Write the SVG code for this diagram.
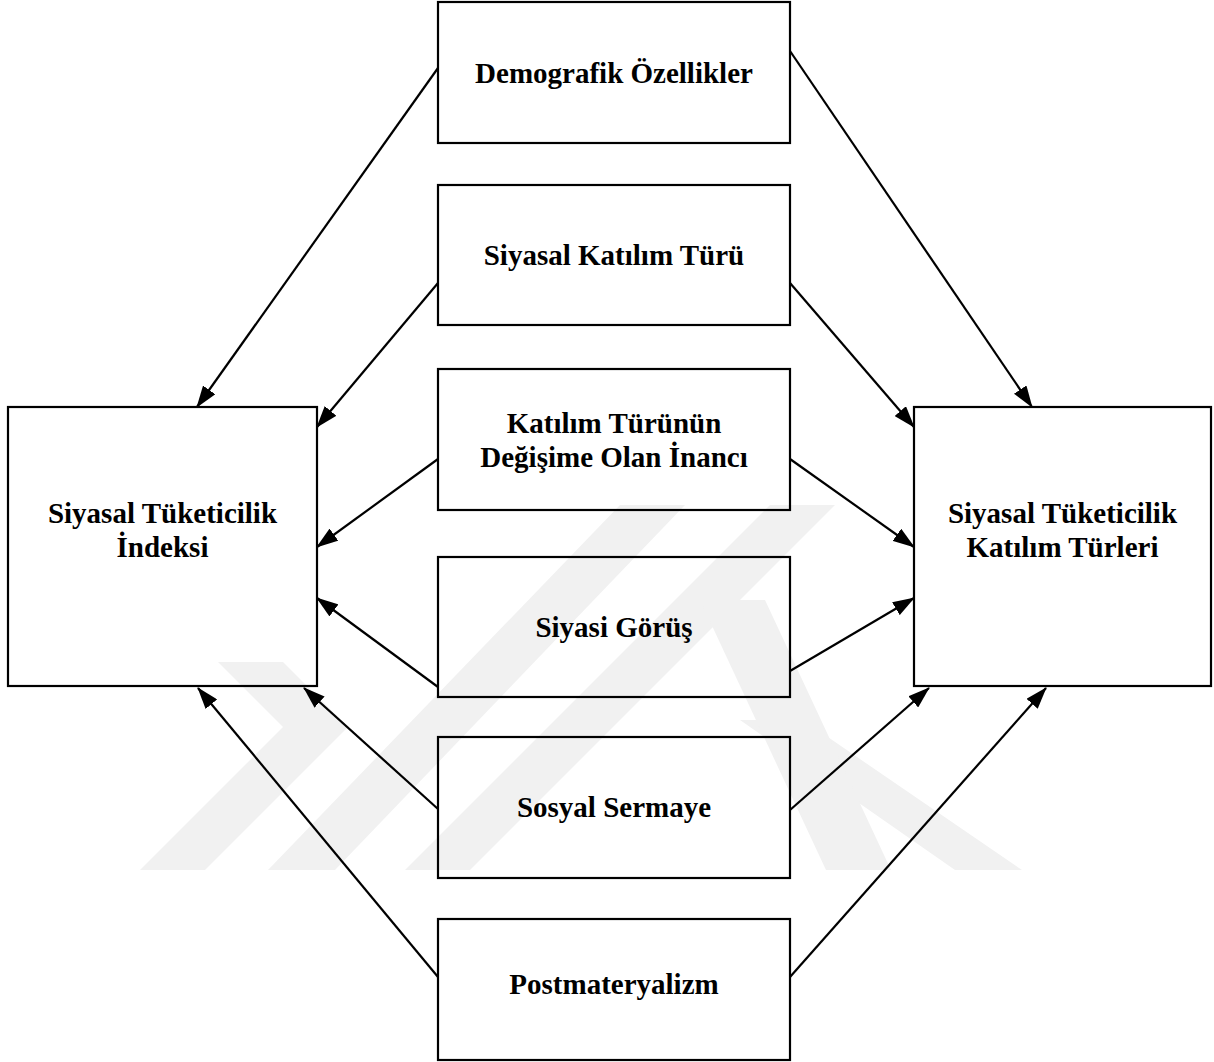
<svg xmlns="http://www.w3.org/2000/svg" width="1214" height="1062" viewBox="0 0 1214 1062">
  <defs>
    <marker id="ah" viewBox="0 0 22 15" refX="21" refY="7.5" markerWidth="22" markerHeight="15" markerUnits="userSpaceOnUse" orient="auto">
      <path d="M0,0 L22,7.5 L0,15 z" fill="#000"/>
    </marker>
    <style>
      .box { fill: none; stroke: #000; stroke-width: 2.2; }
      .lbl { font-family: "Liberation Serif", "Times New Roman", serif; font-weight: bold; font-size: 29px; fill: #000; text-anchor: middle; }
      .conn line { stroke: #000; stroke-width: 2.2; marker-end: url(#ah); }
      .wm { fill: #f1f1f1; }
    </style>
  </defs>
  <rect width="1214" height="1062" fill="#fff"/>

  <g id="watermark">
    <polygon class="wm" points="140,870 205,870 348,727 283,662 218,662 283,727"/>
    <polygon class="wm" points="268,870 335,870 685,505 620,505"/>
    <polygon class="wm" points="405,870 470,870 835,505 770,505"/>
    <polygon class="wm" points="740,720 803,720 1022,870 955,870"/>
    <polygon class="wm" points="700,600 765,600 891,870 826,870"/>
  </g>

  <g id="connectors" class="conn">
    <line x1="438" y1="68" x2="197" y2="407"/>
    <line x1="438" y1="283" x2="317" y2="427"/>
    <line x1="438" y1="459" x2="317" y2="547"/>
    <line x1="438" y1="687" x2="317" y2="598"/>
    <line x1="438" y1="809" x2="304" y2="688"/>
    <line x1="438" y1="977" x2="198" y2="688"/>
    <line x1="790" y1="51" x2="1032" y2="407"/>
    <line x1="790" y1="283" x2="914" y2="427"/>
    <line x1="790" y1="459" x2="914" y2="547"/>
    <line x1="790" y1="671" x2="914" y2="598"/>
    <line x1="790" y1="810" x2="929" y2="688"/>
    <line x1="790" y1="977" x2="1046" y2="688"/>
  </g>

  <g id="node-index">
    <rect class="box" x="8" y="407" width="309" height="279"/>
    <text class="lbl" x="162.5" y="523">Siyasal Tüketicilik</text>
    <text class="lbl" x="162.5" y="557">İndeksi</text>
  </g>
  <g id="node-types">
    <rect class="box" x="914" y="407" width="297" height="279"/>
    <text class="lbl" x="1062.5" y="523">Siyasal Tüketicilik</text>
    <text class="lbl" x="1062.5" y="557">Katılım Türleri</text>
  </g>
  <g id="node-demografik">
    <rect class="box" x="438" y="2" width="352" height="141"/>
    <text class="lbl" x="614" y="83">Demografik Özellikler</text>
  </g>
  <g id="node-katilim-turu">
    <rect class="box" x="438" y="185" width="352" height="140"/>
    <text class="lbl" x="614" y="265">Siyasal Katılım Türü</text>
  </g>
  <g id="node-inanc">
    <rect class="box" x="438" y="369" width="352" height="141"/>
    <text class="lbl" x="614" y="433">Katılım Türünün</text>
    <text class="lbl" x="614" y="467">Değişime Olan İnancı</text>
  </g>
  <g id="node-gorus">
    <rect class="box" x="438" y="557" width="352" height="140"/>
    <text class="lbl" x="614" y="637">Siyasi Görüş</text>
  </g>
  <g id="node-sermaye">
    <rect class="box" x="438" y="737" width="352" height="141"/>
    <text class="lbl" x="614" y="817">Sosyal Sermaye</text>
  </g>
  <g id="node-postmat">
    <rect class="box" x="438" y="919" width="352" height="141"/>
    <text class="lbl" x="614" y="994">Postmateryalizm</text>
  </g>
</svg>
